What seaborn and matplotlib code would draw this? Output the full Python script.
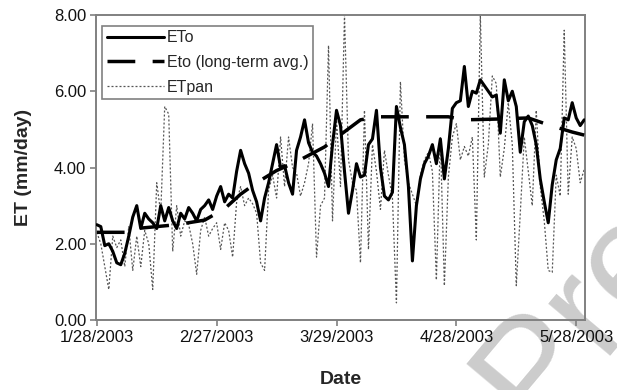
import matplotlib
matplotlib.use("Agg")
import numpy as np
import pandas as pd
import matplotlib.pyplot as plt
import seaborn as sns

# ---------------- data ----------------
start_date = "2003-01-28"

eto_daily = [
    2.50, 2.45, 1.95, 2.00, 1.80, 1.50, 1.45, 1.75, 2.20, 2.70,
    3.00, 2.40, 2.80, 2.65, 2.55, 2.40, 3.00, 2.60, 2.95, 2.60,
    2.40, 2.80, 2.65, 2.95, 2.80, 2.60, 2.90, 3.00, 3.15, 2.90,
    3.25, 3.50, 3.10, 3.30, 3.20, 3.90, 4.45, 4.10, 3.85, 3.40,
    3.10, 2.60, 3.20, 3.60, 4.10, 4.60, 4.00, 4.05, 3.60, 3.30,
    4.45, 4.80, 5.25, 4.65, 4.40, 4.30, 4.10, 3.85, 3.50, 4.60,
    5.50, 5.10, 3.90, 2.80, 3.40, 4.10, 3.75, 3.80, 4.60, 4.75,
    5.50, 4.00, 3.25, 3.15, 3.35, 5.60, 5.05, 4.60, 3.50, 1.55,
    3.00, 3.70, 4.10, 4.30, 4.60, 4.10, 4.75, 3.70, 4.50, 5.55,
    5.70, 5.75, 6.65, 5.60, 6.00, 5.95, 6.30, 6.15, 6.00, 5.85,
    5.90, 4.90, 6.30, 5.75, 6.00, 5.60, 4.40, 5.20, 5.35, 5.10,
    4.60, 3.70, 3.10, 2.55, 3.55, 4.20, 4.50, 5.30, 5.25, 5.70,
    5.30, 5.10, 5.25,
]

etpan_daily = [
    2.30, 2.00, 1.40, 0.80, 2.20, 1.90, 2.10, 1.40, 2.45, 1.30,
    2.20, 1.40, 2.35, 2.00, 0.80, 3.60, 2.80, 5.60, 5.40, 1.80,
    3.00, 2.20, 2.60, 2.50, 2.00, 1.20, 2.35, 2.70, 2.20, 2.40,
    2.55, 1.85, 2.55, 2.35, 1.65, 3.10, 3.50, 3.00, 3.20, 3.05,
    2.80, 1.50, 1.30, 3.40, 3.80, 3.20, 4.80, 3.50, 4.80, 4.00,
    3.85, 3.25, 3.60, 4.10, 5.15, 1.65, 3.00, 3.20, 7.20, 2.60,
    5.25, 3.50, 8.00, 4.20, 3.60, 3.40, 1.50, 5.50, 1.85, 4.60,
    3.90, 2.90, 4.45, 3.80, 3.20, 0.45, 6.25, 4.20, 3.60, 3.30,
    3.00, 3.80, 4.20, 4.40, 3.90, 1.05, 4.80, 0.90, 3.75, 4.80,
    5.15, 4.20, 4.55, 4.30, 4.80, 2.10, 8.00, 3.75, 4.60, 6.40,
    6.20, 3.75, 4.50, 5.70, 4.60, 0.90, 2.80, 4.80, 3.90, 3.00,
    5.50, 3.50, 2.60, 1.30, 1.25, 3.80, 3.25, 7.60, 3.30, 4.80,
    4.50, 3.60, 3.95,
]

lt_day = [0, 7, 10, 20, 27, 32, 36, 40, 45, 50, 57, 61, 66, 70,
          88, 92, 100, 108, 113, 119, 122]
lt_avg = [2.30, 2.30, 2.40, 2.50, 2.62, 2.92, 3.30, 3.60, 3.92, 4.15,
          4.54, 4.86, 5.25, 5.33, 5.33, 5.25, 5.27, 5.30, 5.12, 4.93, 4.85]

tick_dates = ["2003-01-28", "2003-02-27", "2003-03-29", "2003-04-28", "2003-05-28"]
tick_labels = ["1/28/2003", "2/27/2003", "3/29/2003", "4/28/2003", "5/28/2003"]
y_ticks = [0, 2, 4, 6, 8]

series_names = ["ETo", "Eto (long-term avg.)", "ETpan"]

# ---------------- frames ----------------
t0 = pd.Timestamp(start_date)
daily = pd.DataFrame({
    "Date": pd.date_range(t0, periods=len(eto_daily), freq="D"),
    "ETo": eto_daily,
    "ETpan": etpan_daily,
})
longterm = pd.DataFrame({
    "Date": [t0 + pd.Timedelta(days=d) for d in lt_day],
    "avg": lt_avg,
})

# ---------------- plot ----------------
sns.set_theme(style="white")
plt.rcParams["font.family"] = ["Liberation Sans", "DejaVu Sans"]

fig = plt.figure(figsize=(6.17, 3.90), dpi=100)
ax = fig.add_axes([96 / 617, 70 / 390, 489 / 617, 305 / 390])
ax.set_facecolor("none")
ax.set_zorder(1)

spine_col = "#808080"

sns.lineplot(data=daily, x="Date", y="ETpan", ax=ax, color="#555555",
             lw=0.9, linestyle=(0, (1.6, 1.6)), label=series_names[2], zorder=2)
sns.lineplot(data=daily, x="Date", y="ETo", ax=ax, color="black",
             lw=2.2, label=series_names[0], zorder=3)
sns.lineplot(data=longterm, x="Date", y="avg", ax=ax, color="black",
             lw=2.5, label=series_names[1], zorder=4)
ax.lines[-1].set_dashes((8.0, 5.0))

ax.set_xlim(t0 - pd.Timedelta(days=0.2), t0 + pd.Timedelta(days=122.2))
ax.set_ylim(0, 8)
ax.set_yticks(y_ticks)
ax.set_yticklabels([f"{v:.2f}" for v in y_ticks])
ax.set_xticks([pd.Timestamp(d) for d in tick_dates])
ax.set_xticklabels(tick_labels)

ax.tick_params(axis="both", which="major", direction="out", length=4,
               width=1.2, color=spine_col, labelsize=12, pad=3,
               labelcolor="#111111", bottom=True, left=True)
for s in ax.spines.values():
    s.set_visible(True)
    s.set_color(spine_col)
    s.set_linewidth(1.4)

ax.set_xlabel("Date", fontsize=14, fontweight="bold", labelpad=19)
ax.set_ylabel("ET (mm/day)", fontsize=14, fontweight="bold", labelpad=16)

# legend in order ETo, long-term, ETpan
handles, labels = ax.get_legend_handles_labels()
order = [labels.index(n) for n in series_names]
leg = ax.legend([handles[i] for i in order], [labels[i] for i in order],
                loc="upper left", bbox_to_anchor=(0.012, 0.965),
                fontsize=11.5, frameon=True, fancybox=False,
                edgecolor=spine_col, framealpha=1.0, borderpad=0.3,
                handlelength=3.6, handletextpad=0.15, labelspacing=0.6,
                borderaxespad=0.0)
leg.get_frame().set_linewidth(1.2)
leg.set_zorder(10)

# watermark (behind the chart content)
fig.text(0.73, -0.16, "Preview", fontsize=110, color="#cccccc",
         rotation=50, ha="left", va="bottom", zorder=-5)

fig.savefig("out.png", dpi=100, facecolor="white")
